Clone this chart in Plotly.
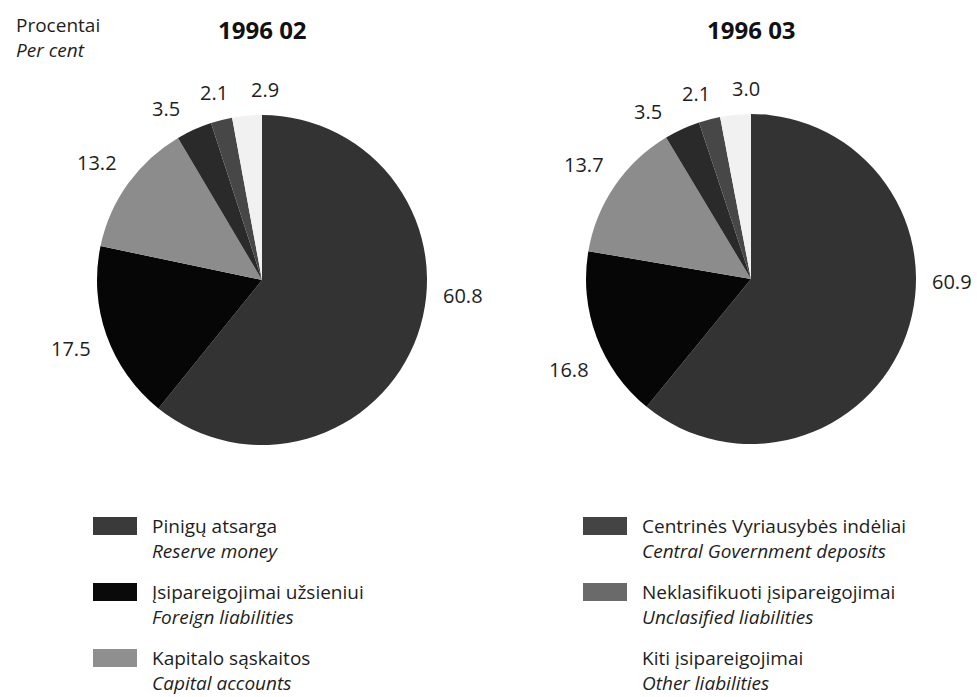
import math
import plotly.graph_objects as go

# ---- data ----
labels_lt = ["Pinigų atsarga", "Įsipareigojimai užsieniui", "Kapitalo sąskaitos",
             "Centrinės Vyriausybės indėliai", "Neklasifikuoti įsipareigojimai", "Kiti įsipareigojimai"]
labels_en = ["Reserve money", "Foreign liabilities", "Capital accounts",
             "Central Government deposits", "Unclasified liabilities", "Other liabilities"]
values_feb = [60.8, 17.5, 13.2, 3.5, 2.1, 2.9]
values_mar = [60.9, 16.8, 13.7, 3.5, 2.1, 3.0]
titles = ["1996 02", "1996 03"]

# ---- style ----
colors = ["#333333", "#060606", "#8c8c8c", "#2a2a2a", "#474747", "#f1f1f1"]
legend_swatch = ["#3a3a3a", "#0a0a0a", "#8f8f8f", "#444444", "#6a6a6a", "#ffffff"]
# small angular nudges (degrees) applied to the value labels, as in the original layout
label_nudge = [[-15, 0, 0, -5, 0, 6], [-19, -6, 0, -7, -2, 4]]

W, H = 977, 697
FONT = "Open Sans"
TXT = "#1e1e1e"
LABEL_SIZE = 20

fig = go.Figure()

pie_centers = [(262, 280), (751, 279)]
R = 165

for i, (vals, (cx, cy)) in enumerate(zip([values_feb, values_mar], pie_centers)):
    fig.add_trace(go.Pie(
        labels=labels_en,
        values=vals,
        sort=False,
        direction="clockwise",
        rotation=0,
        marker=dict(colors=colors, line=dict(width=0)),
        textinfo="none",
        showlegend=False,
        hoverinfo="label+value",
        domain=dict(x=[(cx - R) / W, (cx + R) / W],
                    y=[(H - cy - R) / H, (H - cy + R) / H]),
    ))
    # value labels placed outside each slice at its mid-angle
    total = sum(vals)
    cum = 0.0
    for j, v in enumerate(vals):
        theta = 2 * math.pi * (cum + v / 2) / total + math.radians(label_nudge[i][j])
        cum += v
        s, c = math.sin(theta), math.cos(theta)
        txt = f"{v:.1f}"
        hw = 0.25 * LABEL_SIZE * len(txt)
        hh = 0.45 * LABEL_SIZE
        d = R + 16 + abs(s) * hw + abs(c) * hh
        px = cx + d * s
        py = cy - d * c
        fig.add_annotation(x=px / W, y=1 - py / H, xref="paper", yref="paper",
                           text=txt, showarrow=False,
                           font=dict(family=FONT, size=LABEL_SIZE, color=TXT),
                           xanchor="center", yanchor="middle")
    fig.add_annotation(x=cx / W, y=1 - 29 / H, xref="paper", yref="paper",
                       text="<b>" + titles[i] + "</b>", showarrow=False,
                       font=dict(family=FONT, size=24, color="#111111"),
                       xanchor="center", yanchor="middle")

# unit label
fig.add_annotation(x=14 / W, y=1 - 37 / H, xref="paper", yref="paper",
                   text="Procentai<br><i>Per cent</i>", align="left",
                   showarrow=False, font=dict(family=FONT, size=19, color=TXT),
                   xanchor="left", yanchor="middle")

# custom legend
col_text_x = [150, 640]
row_y = [526, 592, 658]
LEG_SIZE = 19
for k in range(6):
    col, row = divmod(k, 3)
    tx = col_text_x[col]
    ty = row_y[row]
    fig.add_shape(type="rect", xref="paper", yref="paper",
                  x0=(tx - 57) / W, x1=(tx - 13) / W,
                  y0=1 - (ty + 9) / H, y1=1 - (ty - 9) / H,
                  fillcolor=legend_swatch[k], line=dict(width=0))
    fig.add_annotation(x=tx / W, y=1 - (ty + 12) / H, xref="paper", yref="paper",
                       text=labels_lt[k] + "<br><i>" + labels_en[k] + "</i>", align="left",
                       showarrow=False, font=dict(family=FONT, size=LEG_SIZE, color=TXT),
                       xanchor="left", yanchor="middle")

fig.update_layout(
    width=W, height=H,
    margin=dict(l=0, r=0, t=0, b=0),
    paper_bgcolor="white", plot_bgcolor="white",
    font=dict(family=FONT),
)

fig.write_html("out.html", config={"displayModeBar": False},
               post_script="document.body.style.margin='0px';document.body.style.overflow='hidden';")
